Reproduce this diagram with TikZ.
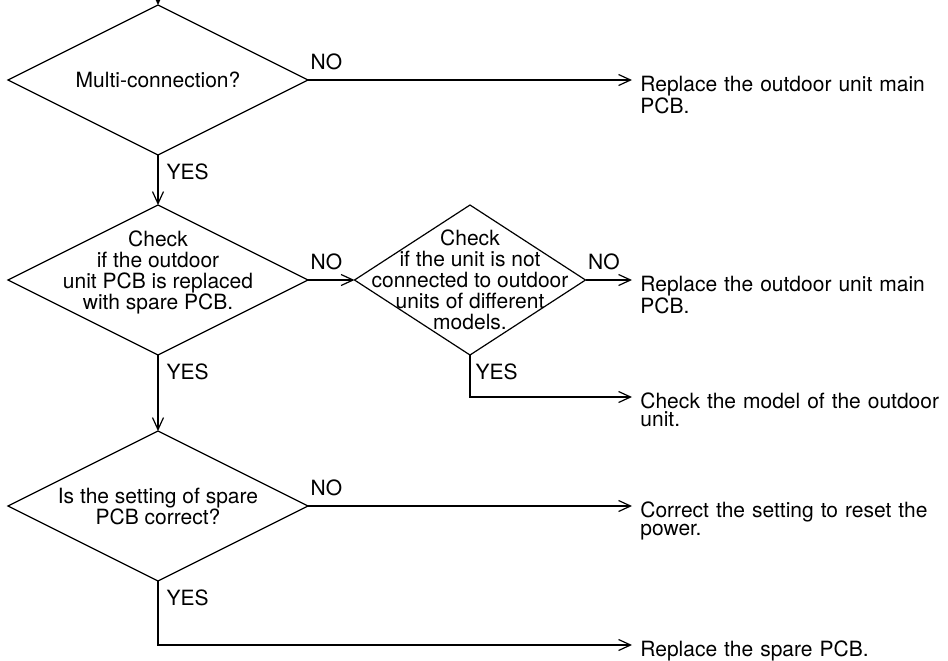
\documentclass[tikz,border=0pt]{standalone}
\usepackage{fontspec}
\setmainfont{TeX Gyre Heros}
\usetikzlibrary{arrows.meta,shapes.geometric}

\begin{document}
\begin{tikzpicture}[x=0.5pt,y=-0.5pt]
\tikzset{
  decision/.style={diamond,draw,line width=0.6pt,inner sep=0pt,outer sep=0pt,minimum width=150pt,minimum height=75pt},
  qtext/.style={font=\fontsize{10.5}{10.5}\selectfont,align=center,inner sep=0pt},
  result/.style={anchor=base west,yshift=-5.5pt,inner xsep=4pt,inner ysep=0pt,text width=154pt,align=left,font=\fontsize{10.5}{9}\selectfont},
  flow/.style={-{Straight Barb[length=6pt,width=5.5pt]},line width=0.6pt},
  nolabel/.style={pos=0,anchor=south west,inner sep=0pt,xshift=1pt,yshift=5pt,font=\fontsize{10.5}{10.5}\selectfont},
  yeslabel/.style={pos=0,anchor=north west,inner sep=0pt,xshift=4pt,yshift=-4pt,font=\fontsize{10.5}{10.5}\selectfont}
}
\useasboundingbox (0,0) rectangle (948,660);

% decisions
\node[decision,label={[qtext]center:Multi-connection?}] (multi) at (158,80) {};
\node[decision,label={[qtext,yshift=4pt]center:Check\\if the outdoor\\unit PCB is replaced\\with spare PCB.}] (spare) at (158,280) {};
\node[decision,minimum width=115.5pt,label={[qtext]center:Check\\if the unit is not\\connected to outdoor\\units of different\\models.}] (models) at (470,280) {};
\node[decision,label={[qtext]center:Is the setting of spare\\PCB correct?}] (setting) at (158,506) {};

% actions
\node[result] (mainpcbA) at (632,80) {Replace the outdoor unit main\\PCB.};
\node[result] (mainpcbB) at (632,280) {Replace the outdoor unit main\\PCB.};
\node[result] (checkmodel) at (632,397) {Check the model of the outdoor\\unit.};
\node[result] (resetpower) at (632,506) {Correct the setting to reset the\\power.};
\node[result] (newspare) at (632,645) {Replace the spare PCB.};

\coordinate (entry) at (158,-10);
\draw[flow] (entry) -- (multi.north);
\draw[flow] (multi.east) -- node[nolabel]{NO} ([yshift=5.5pt]mainpcbA.base west);
\draw[flow] (multi.south) -- node[yeslabel]{YES} (spare.north);
\draw[flow] (spare.east) -- node[nolabel]{NO} (models.west);
\draw[flow] (spare.south) -- node[yeslabel]{YES} (setting.north);
\draw[flow] (models.east) -- node[nolabel]{NO} ([yshift=5.5pt]mainpcbB.base west);
\draw[flow] (models.south) |- node[yeslabel,xshift=-1.5pt]{YES} ([yshift=5.5pt]checkmodel.base west);
\draw[flow] (setting.east) -- node[nolabel]{NO} ([yshift=5.5pt]resetpower.base west);
\draw[flow] (setting.south) |- node[yeslabel]{YES} ([yshift=5.5pt]newspare.base west);
\end{tikzpicture}
\end{document}
